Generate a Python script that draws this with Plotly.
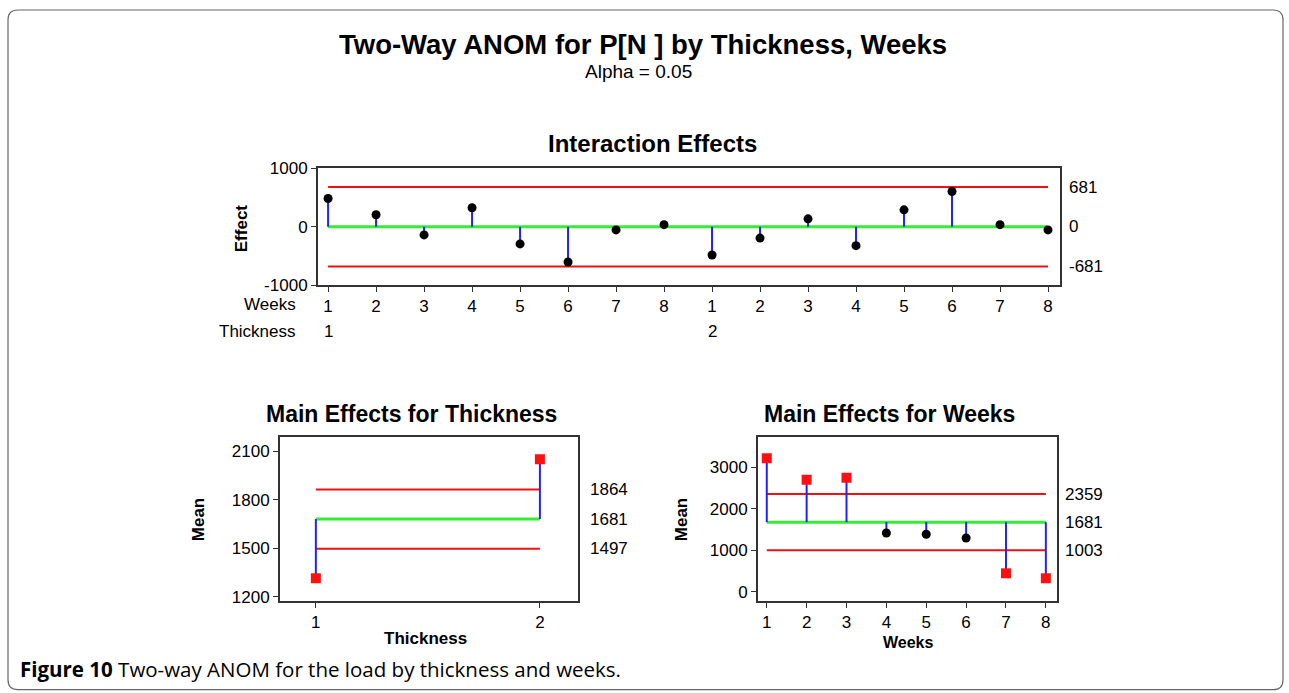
import plotly.graph_objects as go

W = 1289
H_FIG = 693
# the page photograph maps figure y to screen y as 8 + 0.976*y
Y_OFF = 8
Y_SCALE = 0.976

# ---------------- data ----------------
inter_weeks = [1, 2, 3, 4, 5, 6, 7, 8, 1, 2, 3, 4, 5, 6, 7, 8]
inter_thick = [1, 1, 1, 1, 1, 1, 1, 1, 2, 2, 2, 2, 2, 2, 2, 2]
inter_effect = [485, 205, -140, 325, -295, -605, -55, 35,
                -485, -195, 135, -325, 290, 605, 35, -55]
inter_center = 0
inter_lim = 681

thick_levels = [1, 2]
thick_means = [1315, 2050]
thick_center = 1681
thick_udl = 1864
thick_ldl = 1497

week_levels = [1, 2, 3, 4, 5, 6, 7, 8]
week_means = [3220, 2700, 2750, 1420, 1390, 1300, 450, 330]
week_center = 1681
week_udl = 2359
week_ldl = 1003

FONT = "Liberation Sans"
RED = "#ee1111"
GREEN = "#33ee33"
BLUE = "#2222ff"
TICK = 17

fig = go.Figure()


def px_x(p):
    return p / W


def px_y(p):
    return 1 - ((p - Y_OFF) / Y_SCALE) / H_FIG


def add_panel(xs, ys, center, lo, hi, xa, ya, name):
    xr, yr = xa.replace("axis", ""), ya.replace("axis", "")
    x0, x1 = xs[0], xs[-1]
    for val, col, w in [(hi, RED, 2), (lo, RED, 2), (center, GREEN, 3)]:
        fig.add_trace(go.Scatter(x=[x0, x1], y=[val, val], mode="lines",
                                 line=dict(color=col, width=w), xaxis=xr, yaxis=yr,
                                 showlegend=False, hoverinfo="skip"))
    sx, sy = [], []
    for x, y in zip(xs, ys):
        sx += [x, x, None]
        sy += [center, y, None]
    fig.add_trace(go.Scatter(x=sx, y=sy, mode="lines", line=dict(color=BLUE, width=2),
                             xaxis=xr, yaxis=yr, showlegend=False, hoverinfo="skip"))
    inx = [x for x, y in zip(xs, ys) if lo <= y <= hi]
    iny = [y for x, y in zip(xs, ys) if lo <= y <= hi]
    outx = [x for x, y in zip(xs, ys) if not (lo <= y <= hi)]
    outy = [y for x, y in zip(xs, ys) if not (lo <= y <= hi)]
    fig.add_trace(go.Scatter(x=inx, y=iny, mode="markers",
                             marker=dict(color="black", size=9, symbol="circle"),
                             xaxis=xr, yaxis=yr, showlegend=False, name=name))
    fig.add_trace(go.Scatter(x=outx, y=outy, mode="markers",
                             marker=dict(color="#ff1010", size=10, symbol="square"),
                             xaxis=xr, yaxis=yr, showlegend=False, name=name))


inter_x = list(range(1, len(inter_effect) + 1))
add_panel(inter_x, inter_effect, inter_center, -inter_lim, inter_lim, "xaxis", "yaxis", "Interaction")
add_panel(thick_levels, thick_means, thick_center, thick_ldl, thick_udl, "xaxis2", "yaxis2", "Thickness")
add_panel(week_levels, week_means, week_center, week_ldl, week_udl, "xaxis3", "yaxis3", "Weeks")

axis_common = dict(showgrid=False, zeroline=False, showline=True, linecolor="#333333",
                   linewidth=2, mirror=True, ticks="outside", ticklen=5, tickwidth=1,
                   tickcolor="#333333", tickfont=dict(family=FONT, size=TICK, color="black"))

fig.update_layout(
    width=W, height=H_FIG, margin=dict(l=0, r=0, t=0, b=0),
    paper_bgcolor="white", plot_bgcolor="white",
    xaxis=dict(domain=[px_x(318), px_x(1060)], range=[0.79, 16.25],
               tickvals=inter_x, ticktext=[str(w) for w in inter_weeks], anchor="y", **axis_common),
    yaxis=dict(domain=[px_y(285), px_y(168)], range=[-1000, 1000],
               tickvals=[-1000, 0, 1000], ticktext=["-1000", "0", "1000"], anchor="x", **axis_common),
    xaxis2=dict(domain=[px_x(280), px_x(578)], range=[0.84, 2.17],
                tickvals=thick_levels, anchor="y2", **axis_common),
    yaxis2=dict(domain=[px_y(602), px_y(438)], range=[1175, 2185],
                tickvals=[1200, 1500, 1800, 2100], anchor="x2", **axis_common),
    xaxis3=dict(domain=[px_x(758), px_x(1057)], range=[0.78, 8.28],
                tickvals=week_levels, anchor="y3", **axis_common),
    yaxis3=dict(domain=[px_y(602), px_y(438)], range=[-215, 3720],
                tickvals=[0, 1000, 2000, 3000], anchor="x3", **axis_common),
)

ann = []


def text(x, y, s, size=14, bold=False, xanchor="center", yanchor="middle", angle=0,
         xref="paper", yref="paper", family=FONT):
    if bold:
        s = "<b>" + s + "</b>"
    ann.append(dict(x=x, y=y, xref=xref, yref=yref, text=s, showarrow=False,
                    xanchor=xanchor, yanchor=yanchor, textangle=angle,
                    font=dict(family=family, size=size, color="black")))


text(px_x(643), px_y(44), "Two-Way ANOM for P[N ] by Thickness, Weeks", size=27.5, bold=True)
text(px_x(638), px_y(71), "Alpha = 0.05", size=19)
text(px_x(652), px_y(143), "Interaction Effects", size=24, bold=True)
text(px_x(412), px_y(414), "Main Effects for Thickness", size=23, bold=True)
text(px_x(889), px_y(414), "Main Effects for Weeks", size=23, bold=True)

text(px_x(241), px_y(228), "Effect", size=17, bold=True, angle=-90)
text(px_x(198), px_y(521), "Mean", size=17, bold=True, angle=-90)
text(px_x(681), px_y(521), "Mean", size=17, bold=True, angle=-90)
text(px_x(425), px_y(640), "Thickness", size=17, bold=True)
text(px_x(908), px_y(644), "Weeks", size=16, bold=True)

text(px_x(298), px_y(305), "Weeks", size=TICK, xanchor="right")
text(px_x(298), px_y(332), "Thickness", size=TICK, xanchor="right")
for t in sorted(set(inter_thick)):
    first = inter_x[inter_thick.index(t)]
    ann.append(dict(x=first, y=px_y(332), xref="x", yref="paper", text=str(t), showarrow=False,
                    xanchor="center", yanchor="middle", font=dict(family=FONT, size=TICK, color="black")))

for v in [inter_lim, inter_center, -inter_lim]:
    ann.append(dict(x=px_x(1067), y=v, xref="paper", yref="y", text=str(v), showarrow=False,
                    xanchor="left", yanchor="middle", font=dict(family=FONT, size=TICK, color="black")))
for v in [thick_udl, thick_center, thick_ldl]:
    ann.append(dict(x=px_x(588), y=v, xref="paper", yref="y2", text=str(v), showarrow=False,
                    xanchor="left", yanchor="middle", font=dict(family=FONT, size=TICK, color="black")))
for v in [week_udl, week_center, week_ldl]:
    ann.append(dict(x=px_x(1063), y=v, xref="paper", yref="y3", text=str(v), showarrow=False,
                    xanchor="left", yanchor="middle", font=dict(family=FONT, size=TICK, color="black")))

ann.append(dict(x=px_x(18), y=px_y(670), xref="paper", yref="paper",
                text="<b>Figure 10</b> Two-way ANOM for the load by thickness and weeks.",
                showarrow=False, xanchor="left", yanchor="middle",
                font=dict(family="Open Sans", size=20.5, color="black")))

fig.update_layout(annotations=ann)

# outer rounded frame
r = 10
x0, x1, y0, y1 = 8, 1283, 9, 691
path = (f"M {x0+r},{y0} L {x1-r},{y0} Q {x1},{y0} {x1},{y0+r} L {x1},{y1-r} "
        f"Q {x1},{y1} {x1-r},{y1} L {x0+r},{y1} Q {x0},{y1} {x0},{y1-r} L {x0},{y0+r} "
        f"Q {x0},{y0} {x0+r},{y0} Z")


def conv(p):
    out = []
    for tok in p.split(" "):
        if "," in tok:
            a, b = tok.split(",")
            out.append(f"{px_x(float(a)):.5f},{px_y(float(b)):.5f}")
        else:
            out.append(tok)
    return " ".join(out)


fig.add_shape(type="path", path=conv(path), xref="paper", yref="paper",
              line=dict(color="#666666", width=1.2))

fig.write_html("out.html")
